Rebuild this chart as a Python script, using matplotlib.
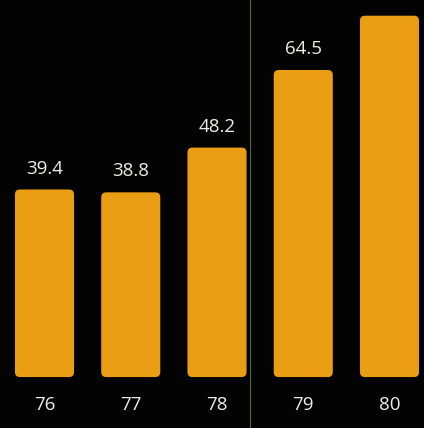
import numpy as np
import matplotlib.pyplot as plt
from matplotlib.patches import FancyBboxPatch

############ Data ############
years = ["76", "77", "78", "79", "80"]
values = [39.4, 38.8, 48.2, 64.5, 75.9]
value_labels = ["39.4", "38.8", "48.2", "64.5", "75.9"]

bar_color = "#E99E14"
text_color = "#EDEDE4"
bg_color = "#030303"

############ Figure ############
fig = plt.figure(figsize=(4.24, 4.28), dpi=100, facecolor=bg_color)
ax = fig.add_axes([0, 0, 1, 1])
ax.set_facecolor(bg_color)

x = np.arange(len(years))
width = 0.685
ax.set_xlim(-0.516, 4.40)
ax.set_ylim(-10.7, 79.2)

# rounded bars, radius equal in both directions
px_x = 424 / (4.40 + 0.516)
px_y = 428 / (79.2 + 10.7)
r = 5 / px_x
for xi, v in zip(x, values):
    box = FancyBboxPatch((xi - width / 2, 0), width, v,
                         boxstyle="round,pad=0,rounding_size=%f" % r,
                         mutation_aspect=px_x / px_y,
                         facecolor=bar_color, edgecolor="none")
    ax.add_patch(box)

for xi, v, lab in zip(x, values, value_labels):
    ax.text(xi, v + 4.4, lab, ha="center", va="center",
            color=text_color, fontsize=13.5, family="Open Sans")

for xi, yr in zip(x, years):
    ax.text(xi, -5.9, yr, ha="center", va="center",
            color=text_color, fontsize=13.5, family="Open Sans")

# thin rule between 78 and 79
ax.axvline(2.378, color="#4E6A2A", linewidth=0.8)

ax.axis("off")
fig.savefig("out.png", dpi=100, facecolor=bg_color)
